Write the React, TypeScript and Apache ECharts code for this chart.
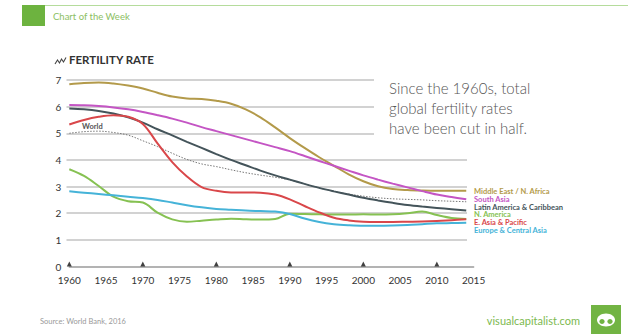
import React, { useEffect, useRef } from "react";
import * as echarts from "echarts";

const years = [1960, 1962, 1964, 1966, 1968, 1970, 1972, 1974, 1976, 1978, 1980, 1982, 1984, 1986, 1988, 1990, 1992, 1994, 1996, 1998, 2000, 2002, 2004, 2006, 2008, 2010, 2012, 2014];

const middleEast = [6.84, 6.89, 6.91, 6.87, 6.79, 6.68, 6.52, 6.38, 6.31, 6.29, 6.22, 6.11, 5.9, 5.6, 5.22, 4.82, 4.45, 4.1, 3.78, 3.46, 3.2, 3.01, 2.91, 2.87, 2.85, 2.84, 2.84, 2.84];
const southAsia = [6.06, 6.05, 6.02, 5.97, 5.9, 5.8, 5.68, 5.55, 5.4, 5.23, 5.08, 4.93, 4.78, 4.63, 4.48, 4.33, 4.15, 3.96, 3.78, 3.6, 3.42, 3.26, 3.11, 2.97, 2.83, 2.7, 2.61, 2.52];
const latinAmerica = [5.93, 5.9, 5.84, 5.74, 5.6, 5.4, 5.15, 4.92, 4.68, 4.45, 4.22, 4.0, 3.8, 3.6, 3.42, 3.26, 3.1, 2.95, 2.82, 2.7, 2.58, 2.48, 2.39, 2.31, 2.25, 2.2, 2.15, 2.1];
const world = [5.0, 5.06, 5.08, 5.03, 4.93, 4.72, 4.5, 4.25, 4.02, 3.85, 3.75, 3.63, 3.52, 3.43, 3.35, 3.25, 3.1, 2.95, 2.82, 2.72, 2.64, 2.58, 2.54, 2.52, 2.5, 2.47, 2.45, 2.43];
const eastAsia = [5.33, 5.5, 5.62, 5.68, 5.62, 5.35, 4.62, 3.92, 3.38, 2.98, 2.84, 2.78, 2.78, 2.77, 2.7, 2.52, 2.27, 2.03, 1.83, 1.73, 1.68, 1.67, 1.67, 1.68, 1.69, 1.71, 1.74, 1.77];
const northAmerica = [3.65, 3.4, 3.02, 2.62, 2.45, 2.4, 2.02, 1.77, 1.68, 1.72, 1.76, 1.79, 1.77, 1.76, 1.78, 1.98, 1.97, 1.96, 1.95, 1.95, 1.96, 1.95, 1.96, 2.0, 2.06, 1.93, 1.82, 1.78];
const europe = [2.82, 2.77, 2.72, 2.67, 2.62, 2.57, 2.5, 2.4, 2.3, 2.22, 2.16, 2.13, 2.1, 2.08, 2.06, 1.97, 1.8, 1.67, 1.59, 1.55, 1.53, 1.53, 1.54, 1.56, 1.59, 1.62, 1.63, 1.64];

const regionNames = ["Middle East / N. Africa", "South Asia", "Latin America & Caribbean", "N. America", "E. Asia & Pacific", "Europe & Central Asia"];
const regionColors = ["#b39a4a", "#c455c4", "#44545a", "#86c152", "#d9474a", "#45b3d8"];
const regionValues = [middleEast, southAsia, latinAmerica, northAmerica, eastAsia, europe];

const tickYears = [1960, 1970, 1980, 1990, 2000, 2010];

const annotationLines = ["Since the 1960s, total", "global fertility rates", "have been cut in half."];

const FONT = "Lato, 'Open Sans', sans-serif";
const GRID_C = "#d2d2d2";

// plot geometry
const TOP = 80;
const BOTTOM = 67.5;
const UNIT = (334 - TOP - BOTTOM) / 7;
const yPix = (v: number) => 334 - BOTTOM - v * UNIT;

export default function App() {
  const ref = useRef<HTMLDivElement>(null);

  useEffect(() => {
    if (!ref.current) return;
    const chart = echarts.init(ref.current, null, { renderer: "svg" });

    const pair = (arr: number[]) => years.map((y, i) => [y, arr[i]]);

    const lineSeries: any[] = regionValues.map((vals, i) => ({
      type: "line",
      name: regionNames[i],
      data: pair(vals),
      smooth: 0.35,
      symbol: "none",
      z: 4,
      lineStyle: { color: regionColors[i], width: 2 },
    }));

    lineSeries.push({
      type: "line",
      name: "World",
      data: pair(world),
      smooth: 0.35,
      symbol: "none",
      z: 3,
      lineStyle: { color: "#777", width: 1, type: [1.5, 1.5] },
    });

    const legendYs = [191, 199.5, 207, 214.5, 222, 230];

    const graphics: any[] = [
      { type: "rect", shape: { x: 22, y: 5, width: 23, height: 21 }, style: { fill: "#6db33f" } },
      { type: "line", shape: { x1: 45, y1: 5.5, x2: 628, y2: 5.5 }, style: { stroke: "#b5dc9c", lineWidth: 1 } },
      { type: "text", x: 53, y: 16, style: { text: "Chart of the Week", fill: "#8cc063", fontSize: 9.5, fontFamily: FONT, verticalAlign: "middle" } },
      { type: "polyline", shape: { points: [[55, 64], [57.5, 60], [59.5, 63], [61.5, 59], [63.5, 62], [66, 57.5]] }, style: { stroke: "#444", lineWidth: 1.1, fill: null } },
      { type: "text", x: 69, y: 59, style: { text: "FERTILITY RATE", fill: "#333", fontSize: 11.5, fontWeight: "bold", fontFamily: FONT, verticalAlign: "middle" } },
      { type: "text", x: 82, y: 126, style: { text: "World", fill: "#555", fontSize: 7.5, fontWeight: "bold", fontFamily: FONT, verticalAlign: "middle" } },
      { type: "text", x: 40, y: 321, style: { text: "Source: World Bank, 2016", fill: "#9a9a9a", fontSize: 7.5, fontFamily: FONT, verticalAlign: "middle" } },
      { type: "text", x: 580, y: 320, style: { text: "visualcapitalist.com", fill: "#7cb950", fontSize: 11, fontFamily: FONT, align: "right", verticalAlign: "middle" } },
      { type: "rect", shape: { x: 591, y: 305, width: 30, height: 29 }, style: { fill: "#72b443" } },
      { type: "ellipse", shape: { cx: 606, cy: 320, rx: 9, ry: 6.5 }, style: { fill: "#fff" } },
      { type: "ellipse", shape: { cx: 602, cy: 321.5, rx: 2.6, ry: 2.4 }, style: { fill: "#72b443" } },
      { type: "ellipse", shape: { cx: 610, cy: 321.5, rx: 2.6, ry: 2.4 }, style: { fill: "#72b443" } },
    ];

    annotationLines.forEach((t, i) => {
      graphics.push({ type: "text", x: 389, y: 88 + i * 20, style: { text: t, fill: "#555", fontSize: 15, fontWeight: 300, fontFamily: FONT, verticalAlign: "middle" } });
    });

    regionNames.forEach((n, i) => {
      graphics.push({ type: "text", x: 474, y: legendYs[i], style: { text: n, fill: regionColors[i], fontSize: 7.5, fontWeight: "bold", fontFamily: FONT, verticalAlign: "middle" } });
    });

    const hiddenX = (gi: number) => ({ type: "value", gridIndex: gi, min: 1960, max: 2015, show: false });
    const gridY = (gi: number, min: number, max: number) => ({
      type: "value", gridIndex: gi, min, max, interval: 1,
      axisLine: { show: false }, axisTick: { show: false }, axisLabel: { show: false },
      splitLine: { show: true, lineStyle: { color: GRID_C, width: 2 } },
    });

    chart.setOption({
      animation: false,
      grid: [
        { left: 69.3, right: 154.4, top: TOP, bottom: BOTTOM },
        // upper gridlines (5–7), stopped short by the annotation text
        { left: 66.5, right: 628 - 374, top: TOP, bottom: 334 - yPix(5) },
        // lower gridlines (1–4)
        { left: 66.5, right: 628 - 467, top: yPix(4), bottom: 334 - yPix(1) },
      ],
      xAxis: [
        {
          type: "value",
          gridIndex: 0,
          min: 1960,
          max: 2015,
          interval: 5,
          axisLine: { show: true, lineStyle: { color: "#9a9a9a", width: 1.5 } },
          axisTick: { show: false },
          splitLine: { show: false },
          axisLabel: { color: "#333", fontSize: 10, fontFamily: FONT, margin: 8, formatter: (v: number) => String(v) },
          z: 3,
        },
        hiddenX(1),
        hiddenX(2),
      ],
      yAxis: [
        {
          type: "value",
          gridIndex: 0,
          min: 0,
          max: 7,
          interval: 1,
          axisLine: { show: false },
          axisTick: { show: false },
          splitLine: { show: false },
          axisLabel: { color: "#333", fontSize: 10, fontFamily: FONT, margin: 8 },
        },
        gridY(1, 5, 7),
        gridY(2, 1, 4),
      ],
      series: [
        {
          type: "scatter",
          xAxisIndex: 0,
          yAxisIndex: 0,
          data: tickYears.map((y) => [y, 0]),
          symbol: "triangle",
          symbolSize: [5, 5],
          symbolOffset: [0, -2.5],
          itemStyle: { color: "#111" },
          z: 5,
          silent: true,
        },
        ...lineSeries,
      ],
      graphic: graphics,
    });

    return () => chart.dispose();
  }, []);

  return (
    <div style={{ position: "fixed", left: 0, top: 0, width: 628, height: 334, background: "#fff" }}>
      <div ref={ref} style={{ width: 628, height: 334 }} />
    </div>
  );
}
